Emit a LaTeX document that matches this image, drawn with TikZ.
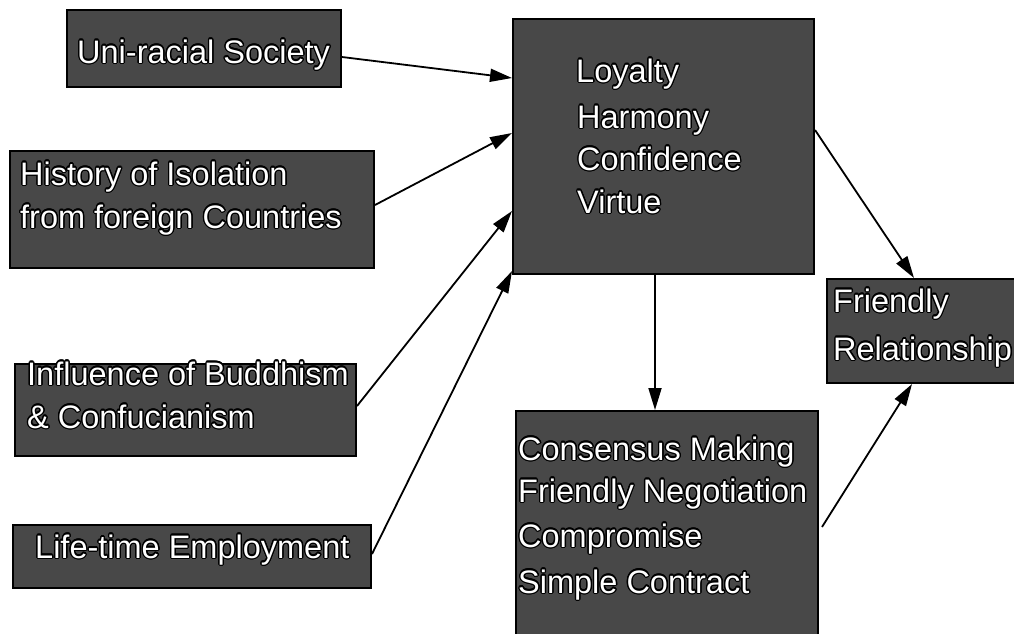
\documentclass[tikz,border=0pt]{standalone}
\usepackage{fontspec}
\setmainfont{Liberation Sans}
\usepackage{contour}
\contourlength{1.3pt}
\contournumber{16}
\usetikzlibrary{arrows.meta,calc}
\definecolor{boxgray}{RGB}{72,72,72}
\newcommand{\olt}[1]{\contour{black}{#1}}
\begin{document}
\begin{tikzpicture}[x=1pt,y=-1pt,
  box/.style={draw=black,line width=2pt,fill=boxgray,rectangle,anchor=north west,inner sep=0pt},
  lbl/.style={anchor=base west,inner sep=0pt,text=white,font=\fontsize{32.5}{38}\selectfont},
  conn/.style={line width=1.8pt,-{Triangle[length=22pt,width=13pt]}}]
\useasboundingbox (0,0) rectangle (1014,633);
\clip (0,0) rectangle (1014,633);
% boxes
\node[box,minimum width=274pt,minimum height=77pt] (uni) at (66,9) {};
\node[box,minimum width=364pt,minimum height=117pt] (hist) at (9,150) {};
\node[box,minimum width=341pt,minimum height=92pt] (infl) at (14,363) {};
\node[box,minimum width=358pt,minimum height=63pt] (life) at (12,524) {};
\node[box,minimum width=301pt,minimum height=255pt] (cen) at (512,18) {};
\node[box,minimum width=200pt,minimum height=104pt] (fr) at (826,278) {};
\node[box,minimum width=302pt,minimum height=240pt] (cons) at (515,410) {};
% labels
\node[lbl] (tuni) at (77,63) {\olt{Uni-racial Society}};
\node[lbl] (thist1) at (20,185) {\olt{History of Isolation}};
\node[lbl] (thist2) at (20,228) {\olt{from foreign Countries}};
\node[lbl] (tinfl1) at (27,385) {\olt{Influence of Buddhism}};
\node[lbl] (tinfl2) at (27,428) {\olt{\& Confucianism}};
\node[lbl] (tlife) at (35,558) {\olt{Life-time Employment}};
\node[lbl] (tcen1) at (576,82) {\olt{Loyalty}};
\node[lbl] (tcen2) at (577,128) {\olt{Harmony}};
\node[lbl] (tcen3) at (577,170) {\olt{Confidence}};
\node[lbl] (tcen4) at (577,213) {\olt{Virtue}};
\node[lbl] (tfr1) at (833,312) {\olt{Friendly}};
\node[lbl] (tfr2) at (833,360) {\olt{Relationship}};
\node[lbl] (tcons1) at (518,460) {\olt{Consensus Making}};
\node[lbl] (tcons2) at (518,502) {\olt{Friendly Negotiation}};
\node[lbl] (tcons3) at (518,547) {\olt{Compromise}};
\node[lbl] (tcons4) at (518,593) {\olt{Simple Contract}};
% connectors
\draw[conn] ($(uni.north east)+(0,48)$) -- ($(cen.north west)+(0,60)$);
\draw[conn] ($(hist.north east)+(0,55)$) -- ($(cen.north west)+(0,115)$);
\draw[conn] ($(infl.north east)+(0,43)$) -- ($(cen.north west)+(0,193)$);
\draw[conn] ($(life.north east)+(0,30)$) -- ($(cen.north west)+(0,253)$);
\draw[conn] ($(cen.north east)+(0,112)$) -- ($(fr.north west)+(88,0)$);
\draw[conn] ($(cen.south west)+(143,0)$) -- ($(cons.north west)+(140,0)$);
\draw[conn] ($(cons.north east)+(3,117)$) -- ($(fr.south west)+(86,0)$);
\end{tikzpicture}
\end{document}
